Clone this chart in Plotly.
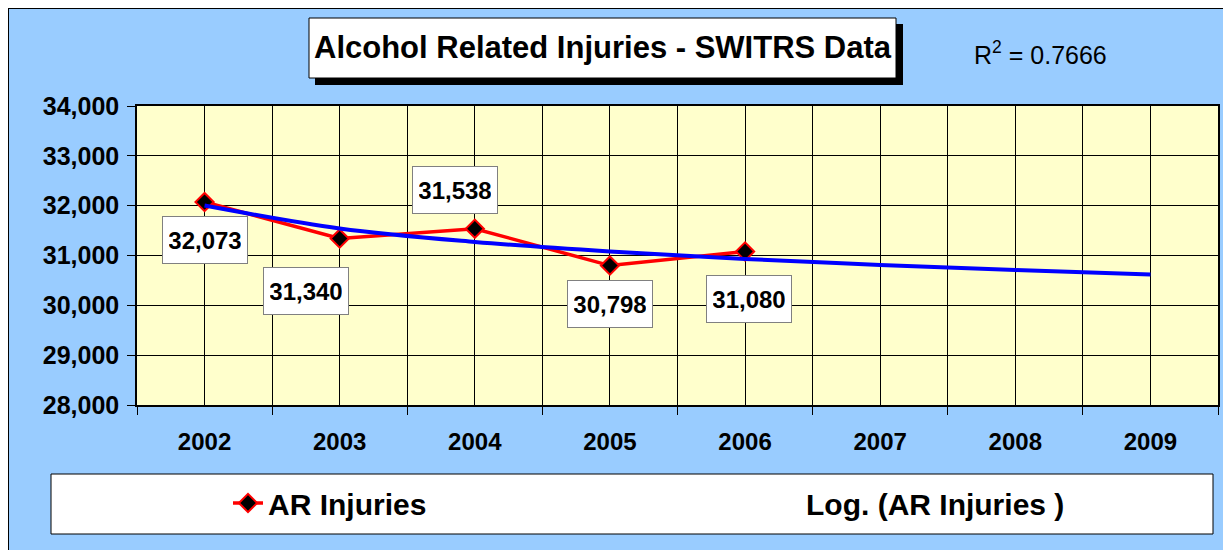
import plotly.graph_objects as go

# ---------------- data ----------------
years = ["2002", "2003", "2004", "2005", "2006", "2007", "2008", "2009"]
ar_injuries = [32073, 31340, 31538, 30798, 31080]           # 2002-2006
log_trend = [32003, 31542, 31272, 31080, 30932, 30810, 30707, 30619]
r_squared_text = "R<sup>2</sup> = 0.7666"
title_text = "Alcohol Related Injuries - SWITRS Data"
series_name = "AR Injuries"
trend_name = "Log. (AR Injuries )"
y_ticks = [28000, 29000, 30000, 31000, 32000, 33000, 34000]

# label offsets (pixels) relative to each point: (xshift, yshift)
label_offsets = [(0, -38), (-34, -52), (-20, 39), (0, -38), (4, -47)]

# ---------------- layout geometry (pixels) ----------------
W, H = 1231, 550
OFF = 8  # page body margin: reference pixel = figure pixel + 8
ML, MR, MT, MB = 129, 21, 98, 153
PW = W - ML - MR
PH = H - MT - MB


def px(xr):
    return (xr - OFF - ML) / PW


def py(yr):
    return (H - MB - (yr - OFF)) / PH


FONT = "Liberation Sans, Arial, sans-serif"
BG = "#99CCFF"
PLOT_BG = "#FFFFCC"

xs = list(range(len(years)))

fig = go.Figure()

fig.add_trace(go.Scatter(
    x=xs[:len(ar_injuries)], y=ar_injuries, mode="lines+markers",
    name=series_name, legend="legend",
    line=dict(color="#FF0000", width=3.5),
    marker=dict(symbol="diamond", size=14, color="black",
                line=dict(color="#FF0000", width=2)),
))

fig.add_trace(go.Scatter(
    x=xs, y=log_trend, mode="lines", showlegend=False,
    line=dict(color="#0000FF", width=4, shape="spline"),
))

# legend-only entry for the trend (symbol not visible as in reference)
fig.add_trace(go.Scatter(
    x=[None], y=[None], mode="lines", name=trend_name, legend="legend2",
    line=dict(color="rgba(0,0,0,0)", width=1),
))

shapes = []
# frame border at the figure edge
shapes.append(dict(type="rect", xref="paper", yref="paper",
                   x0=px(OFF), x1=px(W + OFF + 20), y0=py(H + OFF + 20), y1=py(OFF),
                   fillcolor="rgba(0,0,0,0)", line=dict(color="black", width=2),
                   layer="below"))
# title shadow + box
shapes.append(dict(type="rect", xref="paper", yref="paper",
                   x0=px(315), x1=px(903), y0=py(85), y1=py(24),
                   fillcolor="black", line=dict(width=0), layer="below"))
shapes.append(dict(type="rect", xref="paper", yref="paper",
                   x0=px(309), x1=px(896), y0=py(78), y1=py(18),
                   fillcolor="white", line=dict(color="black", width=1), layer="below"))
# legend box
shapes.append(dict(type="rect", xref="paper", yref="paper",
                   x0=px(51), x1=px(1213), y0=py(534), y1=py(474),
                   fillcolor="white", line=dict(color="black", width=1), layer="below"))

annotations = []
annotations.append(dict(text=title_text, xref="paper", yref="paper",
                        x=px(602.5), y=py(48), xanchor="center", yanchor="middle",
                        showarrow=False,
                        font=dict(family=FONT, size=31, color="black", weight="bold")))
annotations.append(dict(text=r_squared_text, xref="paper", yref="paper",
                        x=px(972), y=py(53), xanchor="left", yanchor="middle",
                        showarrow=False,
                        font=dict(family=FONT, size=25, color="black")))

for i, v in enumerate(ar_injuries):
    dx, dy = label_offsets[i]
    annotations.append(dict(
        text=f"{v:,}", x=xs[i], y=v, xref="x", yref="y",
        xshift=dx, yshift=dy, showarrow=False,
        bgcolor="white", bordercolor="#808080", borderwidth=1, borderpad=6,
        width=72, height=34,
        font=dict(family=FONT, size=24, color="black", weight="bold")))

fig.update_layout(
    width=W, height=H,
    margin=dict(l=ML, r=MR, t=MT, b=MB, pad=0),
    paper_bgcolor=BG, plot_bgcolor=PLOT_BG,
    font=dict(family=FONT, color="black"),
    shapes=shapes, annotations=annotations,
    legend=dict(x=px(228), y=py(503), xanchor="left", yanchor="middle",
                orientation="h", bgcolor="rgba(0,0,0,0)", borderwidth=0,
                font=dict(family=FONT, size=30, color="black", weight="bold")),
    legend2=dict(x=px(766), y=py(503), xanchor="left", yanchor="middle",
                 orientation="h", bgcolor="rgba(0,0,0,0)", borderwidth=0,
                 font=dict(family=FONT, size=30, color="black", weight="bold")),
    xaxis=dict(
        range=[-0.5, len(years) - 0.5], tickmode="array", tickvals=xs, ticktext=years,
        ticks="outside", ticklen=8, tickcolor="rgba(0,0,0,0)",
        ticklabelstandoff=6,
        showgrid=True, gridcolor="black", gridwidth=1,
        minor=dict(tickmode="linear", tick0=0.5, dtick=1, ticks="outside",
                   ticklen=8, tickcolor="black", tickwidth=1,
                   showgrid=True, gridcolor="black", gridwidth=1),
        showline=True, linecolor="black", linewidth=1.5, mirror=True,
        zeroline=False, fixedrange=True,
        tickfont=dict(family=FONT, size=24, color="black", weight="bold"),
    ),
    yaxis=dict(
        range=[y_ticks[0], y_ticks[-1]], tickmode="array", tickvals=y_ticks,
        tickformat=",", ticks="outside", ticklen=8, tickcolor="black",
        ticklabelstandoff=3,
        showgrid=True, gridcolor="black", gridwidth=1,
        showline=True, linecolor="black", linewidth=1.5, mirror=True,
        zeroline=False, fixedrange=True,
        tickfont=dict(family=FONT, size=25, color="black", weight="bold"),
    ),
)

fig.write_html("out.html")
